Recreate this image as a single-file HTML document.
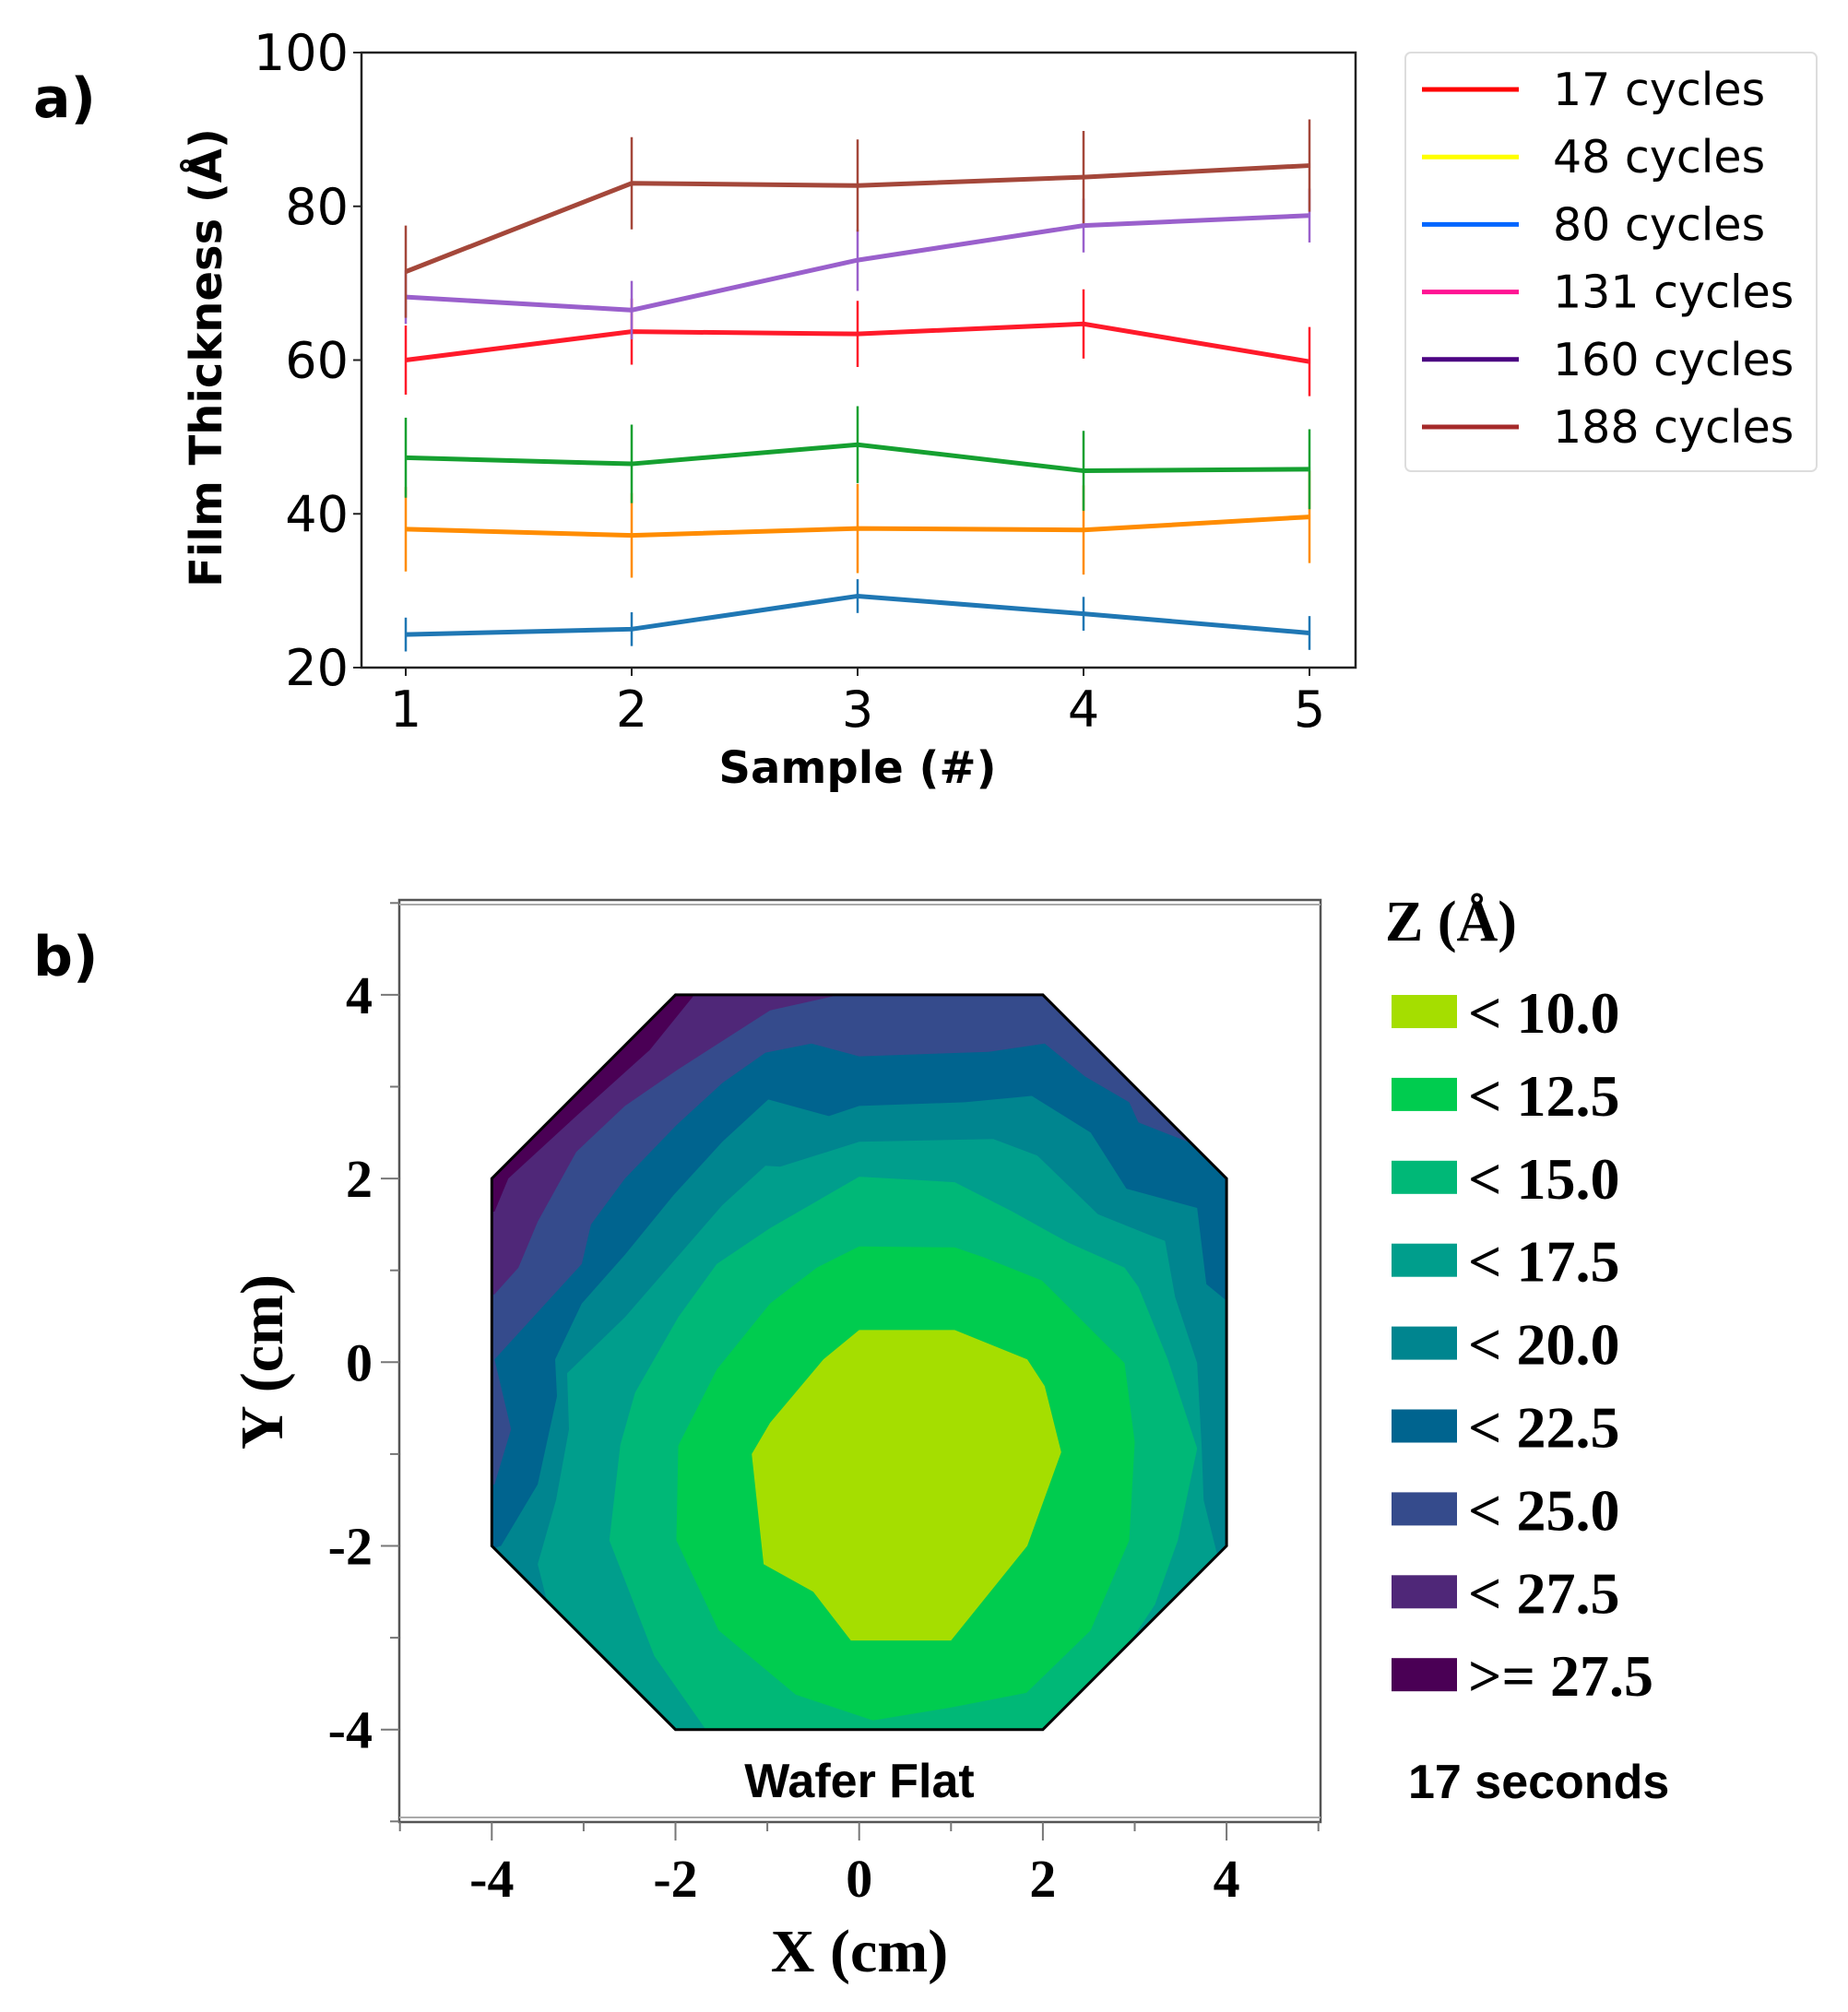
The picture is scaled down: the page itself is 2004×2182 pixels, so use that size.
<!DOCTYPE html>
<html><head><meta charset="utf-8"><style>
html,body{margin:0;padding:0;background:#fff;}
svg{display:block;}
</style></head><body>
<svg id="fig" width="2004" height="2182" viewBox="0 0 2004 2182" xmlns="http://www.w3.org/2000/svg">
<g id="pa"></g>
<g id="pb"></g>
</svg>
<script>
// ---------- Panel a data ----------
const samples = [1, 2, 3, 4, 5];
const yTicksA = [20, 40, 60, 80, 100];
const s188 = [71.5, 83.0, 82.7, 83.8, 85.3];
const e188 = [6.0, 6.0, 6.0, 6.0, 6.0];
const s160 = [68.2, 66.5, 73.0, 77.5, 78.8];
const e160 = [3.5, 3.8, 4.0, 3.5, 3.5];
const s17 = [60.0, 63.7, 63.4, 64.7, 59.8];
const e17 = [4.5, 4.3, 4.3, 4.5, 4.5];
const s131 = [47.3, 46.5, 49.0, 45.6, 45.8];
const e131 = [5.2, 5.1, 5.0, 5.2, 5.2];
const s80 = [38.0, 37.2, 38.1, 37.9, 39.6];
const e80 = [5.5, 5.5, 5.8, 5.8, 6.0];
const s48 = [24.3, 25.0, 29.3, 27.0, 24.5];
const e48 = [2.2, 2.2, 2.2, 2.2, 2.2];
const legendLabels = ["17 cycles", "48 cycles", "80 cycles", "131 cycles", "160 cycles", "188 cycles"];
const legendColors = ["#ff0000", "#ffff00", "#0066ff", "#ff1493", "#4b0082", "#a52a2a"];

// ---------- Panel b data (contour boundaries in cm) ----------
const zLevels = ["< 10.0", "< 12.5", "< 15.0", "< 17.5", "< 20.0", "< 22.5", "< 25.0", "< 27.5", ">= 27.5"];
const zColors = ["#a5de00", "#00cc4f", "#00b877", "#009e8c", "#00858f", "#00648f", "#354b8c", "#4f2778", "#4a0055"];
const axisTicksB = [-4, -2, 0, 2, 4];
const wafer = [[-2,4],[2,4],[4,2],[4,-2],[2,-4],[-2,-4],[-4,-2],[-4,2]];
const c275 = [[-3.97,1.64],[-3.82,2],[-3.08,2.68],[-2.28,3.4],[-1.81,3.98],[-1.8,4.5],[4.5,4.5],[4.5,-5],[-4.5,-5],[-4.5,1.6]];
const c25 = [[-3.97,0.74],[-3.71,1.03],[-3.5,1.53],[-3.08,2.29],[-2.55,2.79],[-1.97,3.19],[-0.97,3.83],[-0.17,4.01],[-0.1,4.5],[4.5,4.5],[4.5,-5],[-4.5,-5],[-4.5,0.6]];
const c225 = [[-1.02,3.37],[-0.52,3.47],[0,3.33],[1.41,3.38],[2.02,3.47],[2.46,3.11],[2.94,2.83],[3.04,2.61],[3.68,2.36],[4.5,2.2],[4.5,-5],[-4.5,-5],[-4.5,-1.5],[-3.97,-1.33],[-3.79,-0.73],[-3.97,0.03],[-3.02,1.07],[-2.92,1.5],[-2.55,2.0],[-1.99,2.58],[-1.49,3.04]];
const c20 = [[-0.99,2.86],[-0.33,2.68],[0,2.79],[1.15,2.83],[1.88,2.9],[2.52,2.5],[2.91,1.89],[3.68,1.68],[3.78,0.85],[4,0.67],[4.5,0.6],[4.5,-5],[-4.5,-5],[-4.5,-2.2],[-3.9,-2.0],[-3.5,-1.33],[-3.29,-0.37],[-3.31,0.03],[-3.02,0.64],[-2.55,1.17],[-2.02,1.82],[-1.49,2.4]];
const c175 = [[-0.86,2.13],[0,2.4],[1.46,2.43],[1.94,2.25],[2.6,1.61],[3.15,1.39],[3.33,1.32],[3.44,0.71],[3.68,-0.01],[3.73,-0.94],[3.75,-1.5],[3.9,-2.1],[4.5,-2.5],[4.5,-5],[-3,-5],[-3.3,-3],[-3.5,-2.2],[-3.3,-1.5],[-3.16,-0.73],[-3.18,-0.12],[-2.55,0.49],[-2.02,1.1],[-1.49,1.71],[-1.02,2.14]];
const c15 = [[0,2.02],[1.04,1.96],[1.67,1.64],[2.28,1.3],[2.89,1.03],[3.04,0.82],[3.36,0.03],[3.68,-0.94],[3.47,-1.94],[3.22,-2.64],[2.66,-3.48],[2.1,-4.2],[-1.53,-4.2],[-2.23,-3.2],[-2.72,-1.94],[-2.6,-0.9],[-2.44,-0.33],[-1.97,0.49],[-1.55,1.07],[-0.97,1.46]];
const c125 = [[0,1.26],[1.04,1.25],[1.36,1.14],[1.99,0.89],[2.46,0.42],[2.89,-0.01],[3,-0.87],[2.94,-1.94],[2.52,-2.92],[1.82,-3.6],[1,-3.76],[0.15,-3.9],[-0.69,-3.62],[-1.53,-2.92],[-1.99,-1.94],[-1.97,-0.91],[-1.55,-0.08],[-0.97,0.64],[-0.46,1.03]];
const c10 = [[0,0.35],[1.04,0.35],[1.83,0.03],[2.02,-0.26],[2.2,-0.98],[1.83,-2],[1.0,-3.03],[-0.09,-3.03],[-0.5,-2.5],[-1.04,-2.2],[-1.17,-1],[-0.97,-0.66],[-0.39,0.03]];

const NS = "http://www.w3.org/2000/svg";
function mk(parent, tag, attrs, text) {
  const el = document.createElementNS(NS, tag);
  for (const k in attrs) el.setAttribute(k, attrs[k]);
  if (text !== undefined) el.textContent = text;
  parent.appendChild(el);
  return el;
}

// ---------- Panel a ----------
const pa = document.getElementById("pa");
const AL = 392, AR = 1470, AT = 57, AB = 724;
const xA = i => 440 + (i - 1) * 245;
const yA = v => AB - (v - 20) * (AB - AT) / 80;
const FA = '"DejaVu Sans", "Liberation Sans", sans-serif';

let t = mk(pa, "text", {x: 36, y: 127, "font-family": FA, "font-size": 60, "font-weight": "bold"}, "a)");



const series = [
  {v: s48, e: e48, c: "#1f77b4", n: "series-48-cycles"},
  {v: s80, e: e80, c: "#ff8c00", n: "series-80-cycles"},
  {v: s131, e: e131, c: "#15a030", n: "series-131-cycles"},
  {v: s17, e: e17, c: "#ff1a2a", n: "series-17-cycles"},
  {v: s160, e: e160, c: "#9a60cc", n: "series-160-cycles"},
  {v: s188, e: e188, c: "#a4473a", n: "series-188-cycles"}
];
series.forEach(s => {
  const g = mk(pa, "g", {});
  
  
  s.v.forEach((v, i) => {
    const eb = mk(g, "line", {x1: xA(samples[i]), x2: xA(samples[i]), y1: yA(v + s.e[i]), y2: yA(v - s.e[i]), stroke: s.c, "stroke-width": 2.5});
    
    
  });
  const pl = mk(g, "polyline", {points: s.v.map((v, i) => xA(samples[i]) + "," + yA(v)).join(" "), fill: "none", stroke: s.c, "stroke-width": 5});
  
  
});

let fr = mk(pa, "rect", {x: AL, y: AT, width: AR - AL, height: AB - AT, fill: "none", stroke: "#222", "stroke-width": 2.5});



yTicksA.forEach(v => {
  const l = mk(pa, "line", {x1: AL - 9, x2: AL, y1: yA(v), y2: yA(v), stroke: "#222", "stroke-width": 2});
  
  
  const tx = mk(pa, "text", {x: AL - 14, y: yA(v) + 19, "text-anchor": "end", "font-family": FA, "font-size": 54}, String(v));
  
  
});
samples.forEach(i => {
  const l = mk(pa, "line", {x1: xA(i), x2: xA(i), y1: AB, y2: AB + 9, stroke: "#222", "stroke-width": 2});
  
  
  const tx = mk(pa, "text", {x: xA(i), y: 788, "text-anchor": "middle", "font-family": FA, "font-size": 54}, String(i));
  
  
});
t = mk(pa, "text", {x: 930, y: 849, "text-anchor": "middle", "font-family": FA, "font-size": 48, "font-weight": "bold"}, "Sample (#)");


t = mk(pa, "text", {x: 0, y: 0, transform: "translate(240,388) rotate(-90)", "text-anchor": "middle", "font-family": FA, "font-size": 48, "font-weight": "bold"}, "Film Thickness (Å)");



const lg = mk(pa, "g", {});


mk(lg, "rect", {x: 1524, y: 57, width: 446, height: 454, rx: 6, fill: "#fff", stroke: "#ddd", "stroke-width": 2});
legendLabels.forEach((lab, i) => {
  const y = 97 + i * 73.2;
  const e = mk(lg, "g", {});
  
  
  mk(e, "line", {x1: 1542, x2: 1647, y1: y, y2: y, stroke: legendColors[i], "stroke-width": 5});
  mk(e, "text", {x: 1684, y: y + 17, "font-family": FA, "font-size": 49}, lab);
});

// ---------- Panel b ----------
const pb = document.getElementById("pb");
const BL = 433, BR = 1432, BT = 976, BB = 1976;
const x0 = 931.7, y0 = 1477.3, U = 99.6;
const xB = v => x0 + v * U;
const yB = v => y0 - v * U;
const FS = '"Liberation Serif", serif';
const pts = arr => arr.map(p => xB(p[0]).toFixed(1) + "," + yB(p[1]).toFixed(1)).join(" ");

t = mk(pb, "text", {x: 36, y: 1058, "font-family": FA, "font-size": 60, "font-weight": "bold"}, "b)");



fr = mk(pb, "rect", {x: BL, y: BT, width: BR - BL, height: BB - BT, fill: "#fff", stroke: "#555", "stroke-width": 2.5});


mk(pb, "line", {x1: BL, x2: BR, y1: BT + 5, y2: BT + 5, stroke: "#aaa", "stroke-width": 2});
mk(pb, "line", {x1: BL, x2: BR, y1: BB - 5, y2: BB - 5, stroke: "#aaa", "stroke-width": 2});

const defs = mk(pb, "defs", {});
const cp = mk(defs, "clipPath", {id: "waferclip"});
mk(cp, "polygon", {points: pts(wafer)});
const cg = mk(pb, "g", {"clip-path": "url(#waferclip)"});


let bg = mk(cg, "polygon", {points: pts(wafer), fill: zColors[8]});


const bands = [c275, c25, c225, c20, c175, c15, c125, c10];
const bandNames = ['contour-band-27-5', 'contour-band-25-0', 'contour-band-22-5', 'contour-band-20-0', 'contour-band-17-5', 'contour-band-15-0', 'contour-band-12-5', 'contour-band-10-0'];
bands.forEach((b, k) => {
  const p = mk(cg, "polygon", {points: pts(b), fill: zColors[7 - k]});
  
  
});
const wo = mk(pb, "polygon", {points: pts(wafer), fill: "none", stroke: "#000", "stroke-width": 3});



for (let v = -5; v <= 5; v++) {
  const major = axisTicksB.includes(v);
  const len = major ? 20 : 10;
  mk(pb, "line", {x1: xB(v), x2: xB(v), y1: BB, y2: BB + len, stroke: "#777", "stroke-width": 2});
  mk(pb, "line", {x1: BL - len, x2: BL, y1: yB(v), y2: yB(v), stroke: "#777", "stroke-width": 2});
}
axisTicksB.forEach(v => {
  const tx = mk(pb, "text", {x: xB(v), y: 2057, "text-anchor": "middle", "font-family": FS, "font-size": 58, "font-weight": "bold"}, String(v));
  
  
  const ty = mk(pb, "text", {x: 404, y: yB(v) + 20, "text-anchor": "end", "font-family": FS, "font-size": 58, "font-weight": "bold"}, String(v));
  
  
});
t = mk(pb, "text", {x: 932, y: 2138, "text-anchor": "middle", "font-family": FS, "font-size": 66, "font-weight": "bold"}, "X (cm)");


t = mk(pb, "text", {x: 0, y: 0, transform: "translate(306,1477) rotate(-90)", "text-anchor": "middle", "font-family": FS, "font-size": 66, "font-weight": "bold"}, "Y (cm)");


t = mk(pb, "text", {x: 932, y: 1949, "text-anchor": "middle", "font-family": '"Liberation Sans", sans-serif', "font-size": 52, "font-weight": "bold"}, "Wafer Flat");



const lb = mk(pb, "g", {});


t = mk(lb, "text", {x: 1502, y: 1020, "font-family": FS, "font-size": 62, "font-weight": "bold"}, "Z (Å)");


zLevels.forEach((lab, i) => {
  const y = 1097 + i * 89.9;
  const e = mk(lb, "g", {});
  
  
  mk(e, "rect", {x: 1509, y: y - 18, width: 71, height: 36, fill: zColors[i]});
  mk(e, "text", {x: 1592, y: y + 23, "font-family": FS, "font-size": 64, "font-weight": "bold"}, lab);
});
t = mk(lb, "text", {x: 1527, y: 1950, "font-family": '"Liberation Sans", sans-serif', "font-size": 52, "font-weight": "bold"}, "17 seconds");


</script>
</body></html>
